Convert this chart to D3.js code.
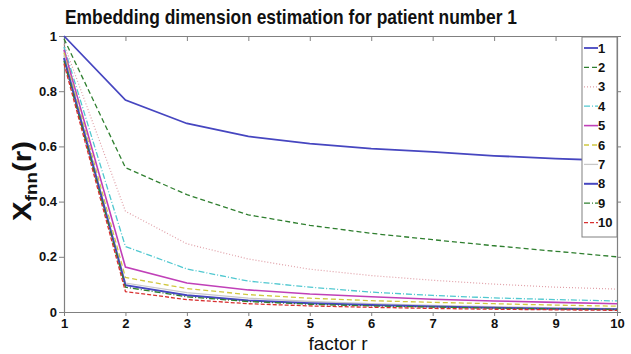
<!DOCTYPE html>
<html>
<head>
<meta charset="utf-8">
<script src="https://cdn.jsdelivr.net/npm/d3@7"></script>
<style>
  body { margin: 0; background: #fff; }
  svg text { font-family: "Liberation Sans", Arial, sans-serif; }
</style>
</head>
<body>
<svg id="chart" width="631" height="354"></svg>
<script>
// facteur r en abscisse
const factors = [1, 2, 3, 4, 5, 6, 7, 8, 9, 10];
const xTicks = [1, 2, 3, 4, 5, 6, 7, 8, 9, 10];
const yTicks = [0, 0.2, 0.4, 0.6, 0.8, 1];
const seriesNames = ["1", "2", "3", "4", "5", "6", "7", "8", "9", "10"];

// valeurs (une liste par dimension)
const dim1 = [1.00, 0.768, 0.683, 0.636, 0.610, 0.592, 0.580, 0.566, 0.556, 0.548];
const dim2 = [0.99, 0.523, 0.425, 0.352, 0.314, 0.285, 0.262, 0.240, 0.220, 0.200];
const dim3 = [0.97, 0.365, 0.247, 0.192, 0.155, 0.132, 0.115, 0.101, 0.090, 0.083];
const dim4 = [0.96, 0.237, 0.156, 0.112, 0.090, 0.072, 0.060, 0.051, 0.045, 0.040];
const dim5 = [0.95, 0.163, 0.105, 0.080, 0.065, 0.055, 0.046, 0.040, 0.035, 0.030];
const dim6 = [0.94, 0.125, 0.085, 0.063, 0.050, 0.041, 0.035, 0.030, 0.025, 0.021];
const dim7 = [0.93, 0.105, 0.070, 0.050, 0.038, 0.030, 0.024, 0.019, 0.015, 0.012];
const dim8 = [0.92, 0.097, 0.061, 0.042, 0.032, 0.025, 0.020, 0.015, 0.012, 0.010];
const dim9 = [0.91, 0.090, 0.055, 0.038, 0.028, 0.022, 0.018, 0.014, 0.011, 0.009];
const dim10 = [0.90, 0.074, 0.045, 0.030, 0.022, 0.017, 0.013, 0.010, 0.008, 0.006];
const allDims = [dim1, dim2, dim3, dim4, dim5, dim6, dim7, dim8, dim9, dim10];

// style de chaque courbe (couleur, tirets, épaisseur)
const colors = ["#4646c0", "#2f7f2f", "#e0a0a8", "#50c8d0", "#c040b8", "#d0c840", "#c8c8c8", "#4646c0", "#2f7f2f", "#d83030"];
const dashes = [null, "5,3", "1,2", "6,2,1,2", null, "5,3", null, null, "6,2,1,2", "4,2"];
const widths = [1.8, 1.3, 1.2, 1.3, 1.6, 1.3, 1.3, 2.0, 1.3, 1.3];

const margin = { top: 36, right: 14, bottom: 42, left: 64 };
const width = 631 - margin.left - margin.right;
const height = 354 - margin.top - margin.bottom;

const svg = d3.select("#chart");
const g = svg.append("g").attr("transform", "translate(" + margin.left + "," + margin.top + ")");

const x = d3.scaleLinear().domain([1, 10]).range([0, width]);
const y = d3.scaleLinear().domain([0, 1]).range([height, 0]);

//Axes
const axisColor = "#808080";
const xAxis = g.append("g").attr("transform", "translate(0," + height + ")")
  .call(d3.axisBottom(x).tickValues(xTicks).tickFormat(d3.format("d")).tickSizeInner(4).tickSizeOuter(0).tickPadding(3));
const yAxis = g.append("g")
  .call(d3.axisLeft(y).tickValues(yTicks).tickFormat(d => d === 0 || d === 1 ? d : d3.format(".1f")(d)).tickSizeInner(5).tickSizeOuter(0).tickPadding(2));
const xTop = g.append("g")
  .call(d3.axisTop(x).tickValues(xTicks).tickSizeInner(-5).tickSizeOuter(0).tickFormat(""));
const yRight = g.append("g").attr("transform", "translate(" + width + ",0)")
  .call(d3.axisRight(y).tickValues(yTicks).tickSizeInner(4).tickSizeOuter(0).tickFormat(""));

[xAxis, yAxis, xTop, yRight].forEach(a => {
  a.select(".domain").attr("stroke", axisColor).attr("stroke-width", 1.2);
  a.selectAll(".tick line").attr("stroke", axisColor);
  a.selectAll(".tick text")
    .attr("fill", "#111")
    .attr("font-size", 13)
    .attr("font-weight", "bold")
    .attr("font-family", "Liberation Sans, Arial, sans-serif");
});

//Courbes
const line = d3.line().x((d, i) => x(factors[i])).y(d => y(d));
g.selectAll(".serie")
  .data(allDims)
  .join("path")
  .attr("class", "serie")
  .attr("d", d => line(d))
  .attr("fill", "none")
  .attr("stroke", (d, i) => colors[i])
  .attr("stroke-width", (d, i) => widths[i])
  .attr("stroke-dasharray", (d, i) => dashes[i]);

//Légende
const legend = svg.append("g").attr("transform", "translate(582,37)");
legend.append("rect")
  .attr("width", 35).attr("height", 200)
  .attr("fill", "#fff").attr("stroke", axisColor).attr("stroke-width", 1);
const items = legend.selectAll(".leg")
  .data(seriesNames)
  .join("g")
  .attr("class", "leg")
  .attr("transform", (d, i) => "translate(0," + (11 + i * 19.4) + ")");
items.append("line")
  .attr("x1", 2).attr("x2", 16)
  .attr("stroke", (d, i) => colors[i])
  .attr("stroke-width", (d, i) => widths[i])
  .attr("stroke-dasharray", (d, i) => dashes[i]);
items.append("text")
  .attr("x", 16).attr("dy", "0.35em")
  .attr("font-size", 13).attr("font-weight", "bold").attr("fill", "#111")
  .text(d => d);

//Titres
svg.append("text")
  .attr("x", 65).attr("y", 24)
  .attr("font-size", 21).attr("font-weight", "bold").attr("fill", "#111")
  .attr("textLength", 452).attr("lengthAdjust", "spacingAndGlyphs")
  .text("Embedding dimension estimation for patient number 1");

svg.append("text")
  .attr("x", 338).attr("y", 350)
  .attr("text-anchor", "middle")
  .attr("font-size", 19).attr("fill", "#111")
  .text("factor r");

const yLab = svg.append("text")
  .attr("transform", "translate(31,181) rotate(-90)")
  .attr("text-anchor", "middle")
  .attr("font-weight", "bold").attr("fill", "#111")
  .attr("font-size", 25)
  .attr("textLength", 80).attr("lengthAdjust", "spacingAndGlyphs");
yLab.append("tspan").text("X");
yLab.append("tspan").attr("font-size", 16).attr("dy", 6).text("fnn");
yLab.append("tspan").attr("dy", -6).text("(r)");
</script>
</body>
</html>
